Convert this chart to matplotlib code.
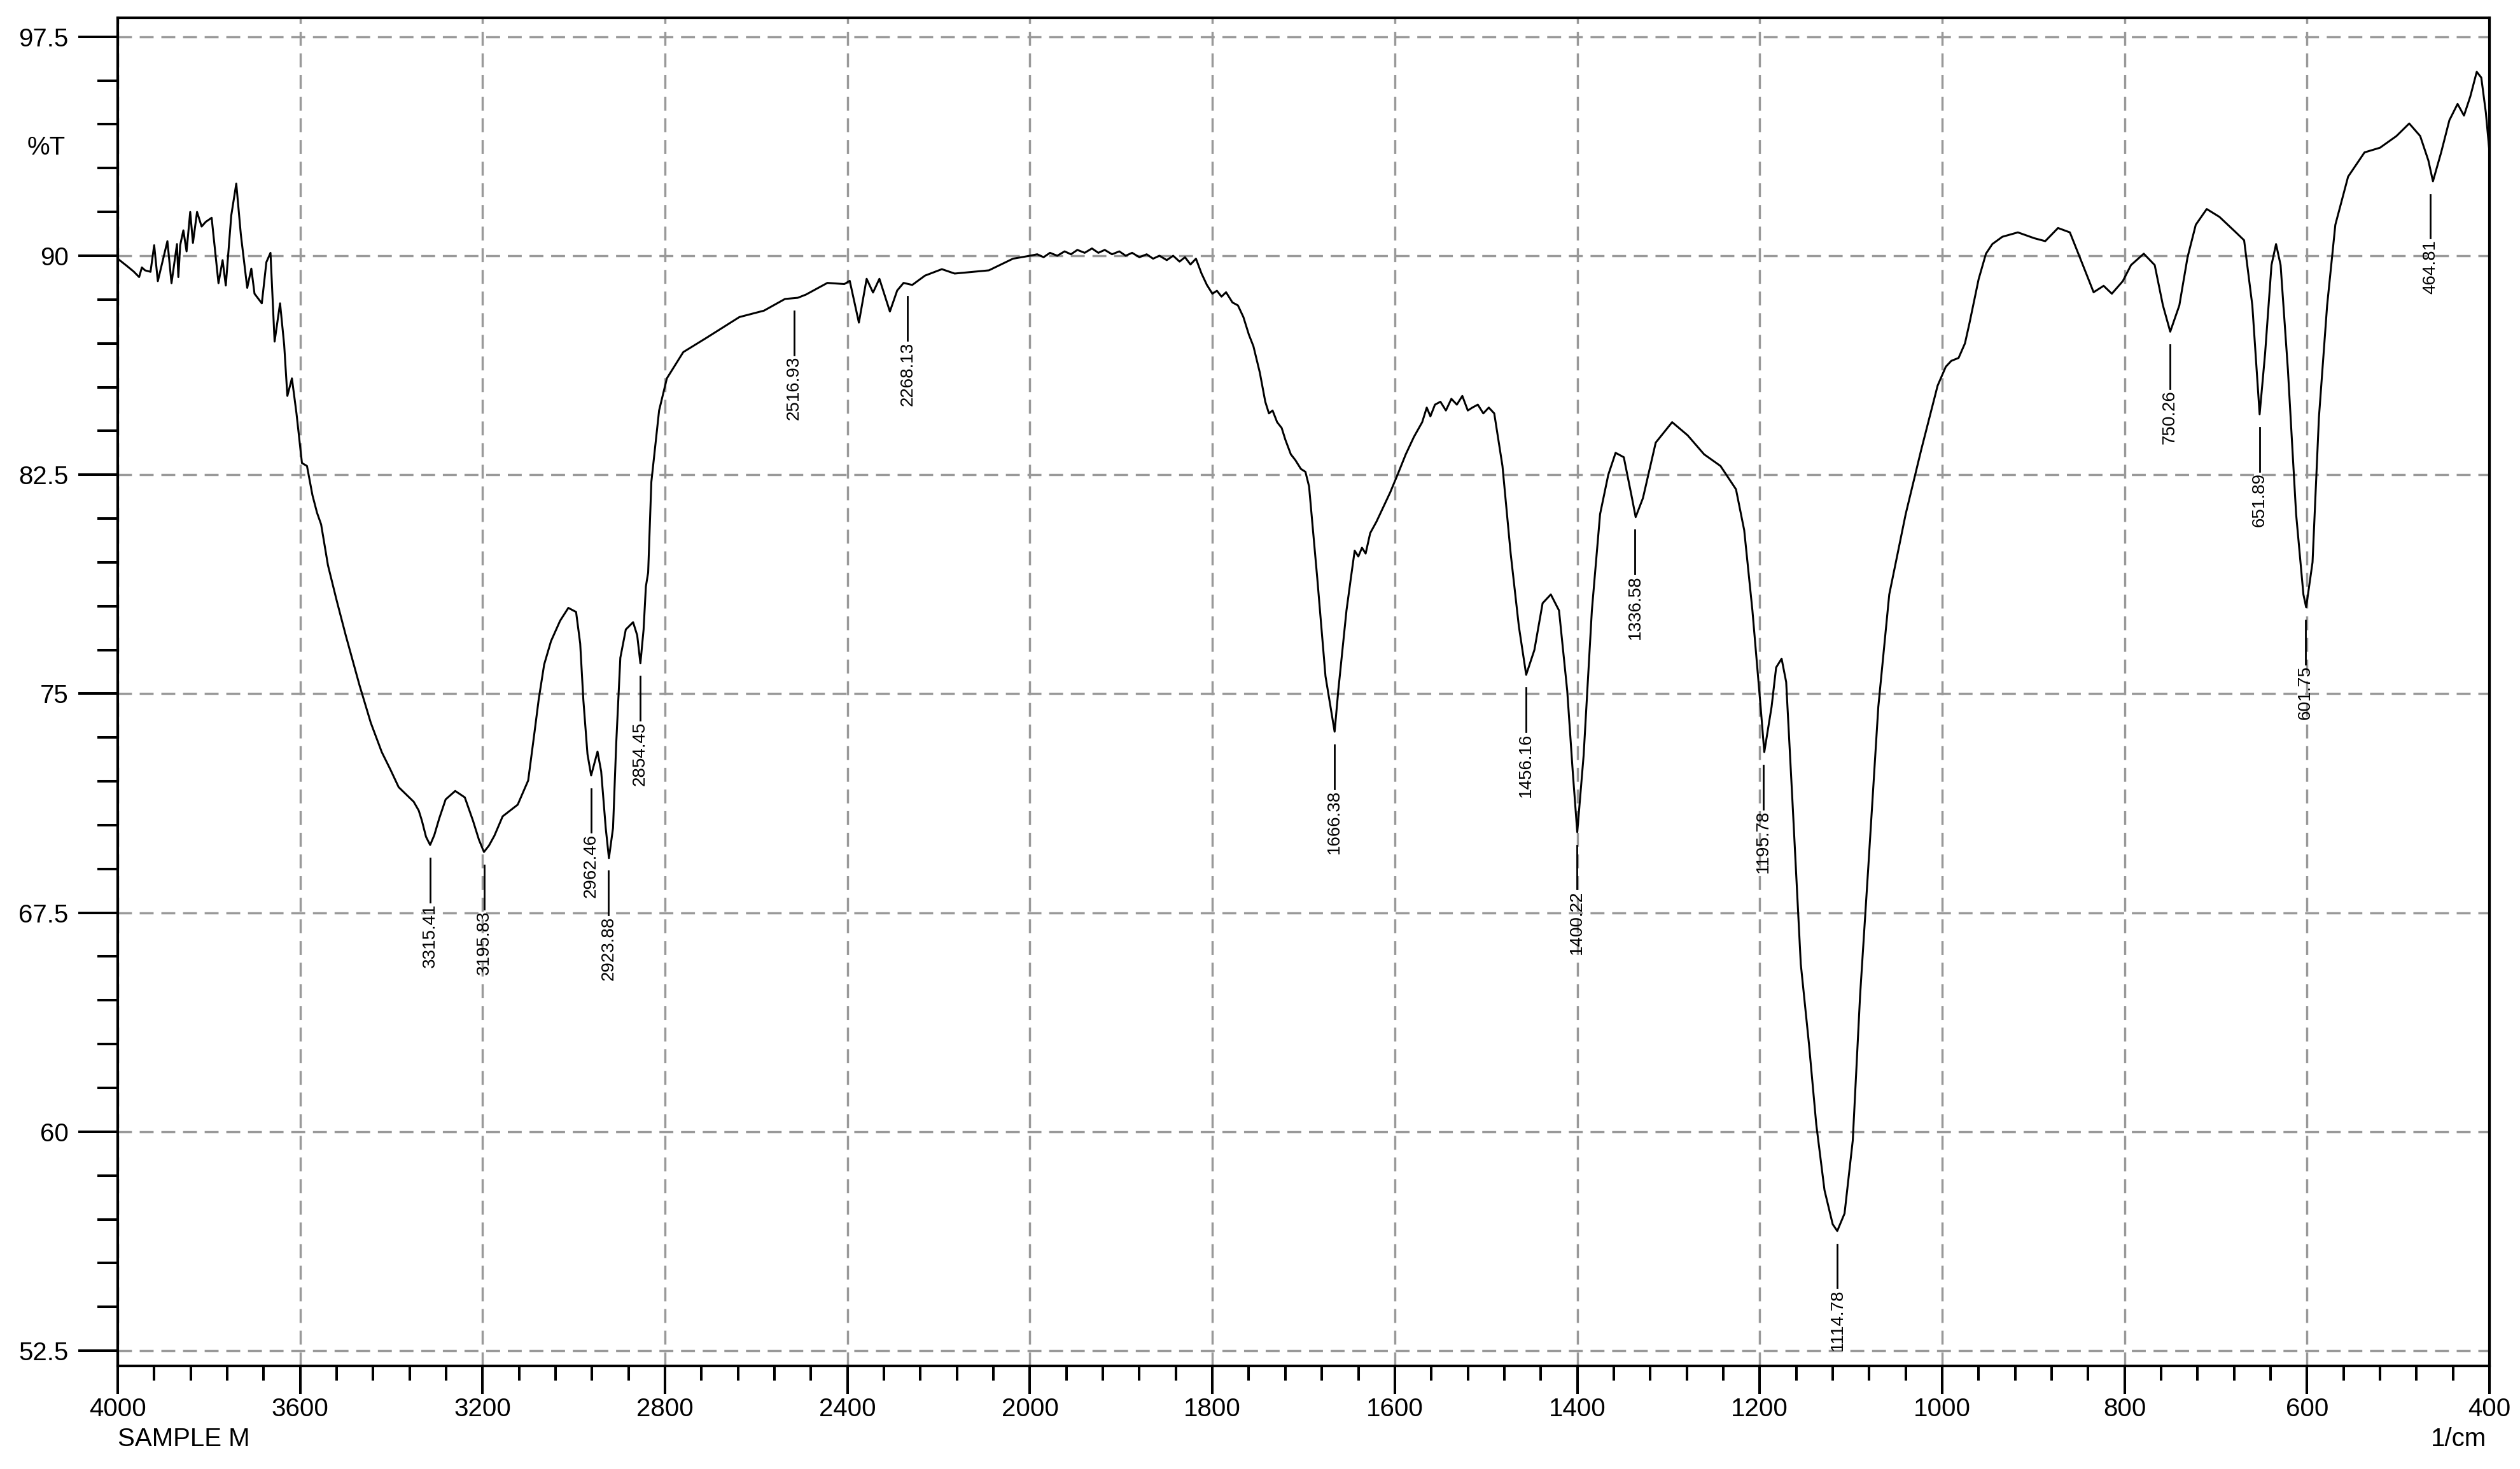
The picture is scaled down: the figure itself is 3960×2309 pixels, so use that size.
import numpy as np
import matplotlib
matplotlib.use("Agg")
from matplotlib import pyplot as plt
from matplotlib.ticker import FixedLocator, MultipleLocator, FuncFormatter

plt.rcParams['font.family'] = ['Liberation Sans', 'DejaVu Sans']

# spectrum: wavenumber (1/cm) and %T
wavenumber = [
    4000, 3979, 3965, 3953, 3947, 3940, 3928, 3920, 3912, 3891, 3882, 3870, 3867, 3863,
    3856, 3849, 3841, 3835, 3826, 3816, 3807, 3794, 3779, 3770, 3763, 3751, 3740, 3730,
    3716, 3707, 3700, 3684, 3674, 3665, 3656, 3644, 3635, 3628, 3618, 3608, 3596, 3585,
    3573, 3563, 3554, 3539, 3520, 3500, 3470, 3445, 3421, 3402, 3384, 3351, 3340, 3333, 3324, 3315,
    3306, 3295, 3281, 3260, 3239, 3221, 3208, 3197, 3186, 3174, 3156, 3123, 3100, 3086, 3077, 3065, 3050,
    3030, 3012, 2995, 2986, 2979, 2970, 2962, 2948, 2940, 2930, 2923, 2914, 2907, 2898,
    2886, 2870, 2861, 2854, 2847, 2842, 2837, 2830, 2813, 2796, 2760, 2708, 2637, 2583,
    2537, 2509, 2491, 2444, 2407, 2395, 2375, 2358, 2344, 2330, 2307, 2291, 2277, 2258,
    2230, 2193, 2165, 2090, 2037,
    2000, 1992, 1985, 1978, 1970, 1962, 1955, 1948, 1940, 1932, 1925, 1918, 1910, 1902,
    1895, 1888, 1880, 1872, 1865, 1858, 1850, 1843, 1836, 1830, 1824, 1818, 1812, 1806,
    1800, 1795, 1790, 1785, 1778, 1772, 1766, 1760, 1755, 1748, 1742, 1738, 1734, 1729,
    1724, 1720, 1714, 1709, 1703, 1698, 1694, 1685,
    1676, 1666, 1662, 1653, 1648, 1644, 1640, 1636, 1632, 1627, 1620, 1614, 1605, 1597,
    1588, 1579, 1570, 1565, 1561, 1556, 1550, 1544, 1538, 1532, 1526, 1520, 1515, 1509,
    1503, 1497, 1491, 1482, 1473, 1464, 1456, 1447, 1438, 1429, 1420, 1411, 1405, 1400, 1393, 1384,
    1375, 1366, 1358, 1349, 1340, 1336, 1328, 1314, 1296, 1279, 1261, 1243, 1226, 1217,
    1208, 1199, 1195, 1187, 1182, 1176, 1171, 1164, 1155, 1146, 1138, 1129, 1120, 1115,
    1107, 1098, 1090, 1081, 1070, 1058, 1040, 1023, 1005, 996, 990, 982, 975, 970, 960, 952, 945, 934, 917,
    899, 887, 873, 860, 846, 834, 823, 814, 802, 793, 779, 767, 758, 750, 740, 731, 722,
    710, 696, 678, 669, 660, 652, 646, 639, 634, 629, 621, 612, 604, 601, 594, 587, 578,
    569, 555, 537, 520, 502, 488, 476, 467, 462, 453, 444, 435, 428, 421, 414, 409, 404,
    400,
]
transmittance = [
    89.9, 89.64, 89.46, 89.27, 89.6, 89.5, 89.45, 90.36, 89.13, 90.5, 89.06, 90.4, 89.27, 90.36,
    90.87, 90.15, 91.5, 90.44, 91.5, 91.0, 91.16, 91.3, 89.06, 89.85, 88.98, 91.38, 92.47, 90.73,
    88.9, 89.56, 88.7, 88.37, 89.78, 90.1, 87.06, 88.37, 86.95, 85.2, 85.8, 84.6, 82.9, 82.8,
    81.8, 81.2, 80.8, 79.4, 78.2, 77.0, 75.3, 74.0, 73.0, 72.4, 71.8, 71.3, 71.0, 70.65, 70.1, 69.82,
    70.15, 70.73, 71.38, 71.67, 71.45, 70.65, 70.0, 69.58, 69.8, 70.14, 70.8, 71.2, 72.03, 73.7, 74.8, 76.0, 76.8,
    77.5, 77.94, 77.8, 76.72, 74.77, 72.93, 72.2, 73.02, 72.34, 70.4, 69.37, 70.4, 73.3, 76.23,
    77.2, 77.45, 77.0, 76.04, 77.2, 78.67, 79.15, 82.25, 84.7, 85.8, 86.7, 87.2, 87.9, 88.12,
    88.52, 88.56, 88.67, 89.07, 89.03, 89.14, 87.71, 89.21, 88.74, 89.21, 88.09, 88.81, 89.07, 89.0,
    89.32, 89.54, 89.39, 89.5, 89.9,
    90.0, 90.05, 89.95, 90.1, 90.0, 90.15, 90.05, 90.2, 90.1, 90.25, 90.1, 90.2, 90.05, 90.15,
    90.0, 90.1, 89.95, 90.05, 89.9, 90.0, 89.85, 90.0, 89.8, 89.95, 89.7, 89.9, 89.4, 89.0,
    88.7, 88.8, 88.6, 88.75, 88.4, 88.3, 87.9, 87.3, 86.9, 86.0, 85.0, 84.6, 84.7, 84.3,
    84.1, 83.7, 83.2, 83.0, 82.7, 82.6, 82.1, 78.95,
    75.6, 73.7, 75.1, 77.85, 79.0, 79.9, 79.7, 80.0, 79.8, 80.5, 80.9, 81.3, 81.9, 82.5,
    83.2, 83.8, 84.3, 84.8, 84.5, 84.9, 85.0, 84.7, 85.1, 84.9, 85.2, 84.7, 84.8, 84.9,
    84.6, 84.8, 84.6, 82.8, 79.8, 77.3, 75.65, 76.5, 78.1, 78.4, 77.85, 75.1, 72.35, 70.26, 72.9, 77.85,
    81.15, 82.5, 83.25, 83.1, 81.7, 81.05, 81.7, 83.6, 84.3, 83.85, 83.2, 82.8, 82.0, 80.6,
    77.85, 74.55, 73.0, 74.55, 75.9, 76.2, 75.4, 71.25, 65.75, 63.0, 60.25, 58.0, 56.83, 56.6,
    57.2, 59.7, 64.65, 69.05, 74.55, 78.4, 81.15, 83.35, 85.55, 86.2, 86.4, 86.5, 87.0, 87.7, 89.2, 90.07, 90.4, 90.65, 90.8,
    90.6, 90.5, 90.95, 90.8, 89.7, 88.75, 88.97, 88.7, 89.13, 89.68, 90.07, 89.68, 88.3, 87.4, 88.3, 89.95, 91.06,
    91.6, 91.33, 90.8, 90.53, 88.3, 84.57, 86.65, 89.68, 90.4, 89.68, 86.1, 81.15, 78.4, 77.96, 79.5, 84.46, 88.3,
    91.06, 92.71, 93.54, 93.7, 94.1, 94.53, 94.1, 93.26, 92.55, 93.54, 94.64, 95.2, 94.8, 95.46, 96.3, 96.1, 94.9,
    93.54,
]

# labelled peaks
peak_wn = [3315.41, 3195.83, 2962.46, 2923.88, 2854.45, 2516.93, 2268.13, 1666.38, 1456.16,
           1400.22, 1336.58, 1195.78, 1114.78, 750.26, 651.89, 601.75, 464.81]
peak_t = [69.82, 69.58, 72.2, 69.37, 76.04, 88.56, 89.05, 73.7, 75.65,
          70.26, 81.05, 73.0, 56.6, 87.4, 84.57, 77.96, 92.55]

x_major = [4000, 3600, 3200, 2800, 2400, 2000, 1800, 1600, 1400, 1200, 1000, 800, 600, 400]


# the chart doubles the scale below 2000 1/cm
def fwd(x):
    x = np.asarray(x, dtype=float)
    return np.where(x >= 2000, x, 2 * x - 2000)


def inv(u):
    u = np.asarray(u, dtype=float)
    return np.where(u >= 2000, u, (u + 2000) / 2)


fig = plt.figure(figsize=(39.6, 23.09), dpi=100)
ax = fig.add_axes([0.0467, 0.0702, 0.9412, 0.9177])
ax.set_xscale('function', functions=(fwd, inv))
ax.set_xlim(4000, 400)
ax.set_ylim(51.98, 98.15)

x_minor = [v for v in range(4000, 2000, -80) if v not in x_major]
x_minor += [v for v in range(2000, 400, -40) if v not in x_major]
ax.xaxis.set_major_locator(FixedLocator(x_major))
ax.xaxis.set_minor_locator(FixedLocator(x_minor))
ax.xaxis.set_major_formatter(FuncFormatter(lambda v, p: '%d' % round(v)))
ax.xaxis.set_minor_formatter(FuncFormatter(lambda v, p: ''))
ax.yaxis.set_major_locator(MultipleLocator(7.5))
ax.yaxis.set_minor_locator(MultipleLocator(1.5))
ax.yaxis.set_major_formatter(FuncFormatter(lambda v, p: '%g' % v))

ax.grid(True, which='major', color='#999999', linestyle=(0, (6.3, 3.5)), linewidth=2.5)
ax.set_axisbelow(True)

for s in ax.spines.values():
    s.set_linewidth(3)
ax.tick_params(axis='x', which='major', length=32, width=2.9, pad=3, labelsize=29)
ax.tick_params(axis='x', which='minor', length=16.5, width=2.9)
ax.tick_params(axis='y', which='major', length=44.6, width=2.9, pad=11, labelsize=29)
ax.tick_params(axis='y', which='minor', length=23, width=2.9)

ax.plot(wavenumber, transmittance, color='black', linewidth=2.2)

for w, t in zip(peak_wn, peak_t):
    ax.plot([w, w], [t - 0.45, t - 1.95], color='black', linewidth=2)
    ax.text(w, t - 2.0, '%.2f' % w, rotation=90, ha='center', va='top', fontsize=20)

fig.text(103 / 3960, 1 - 232 / 2309, '%T', ha='right', va='center', fontsize=29)
fig.text(185 / 3960, 1 - 2273 / 2309, 'SAMPLE M', ha='left', va='baseline', fontsize=29)
fig.text(3907 / 3960, 1 - 2273 / 2309, '1/cm', ha='right', va='baseline', fontsize=29)

fig.savefig('out.png', dpi=100)
